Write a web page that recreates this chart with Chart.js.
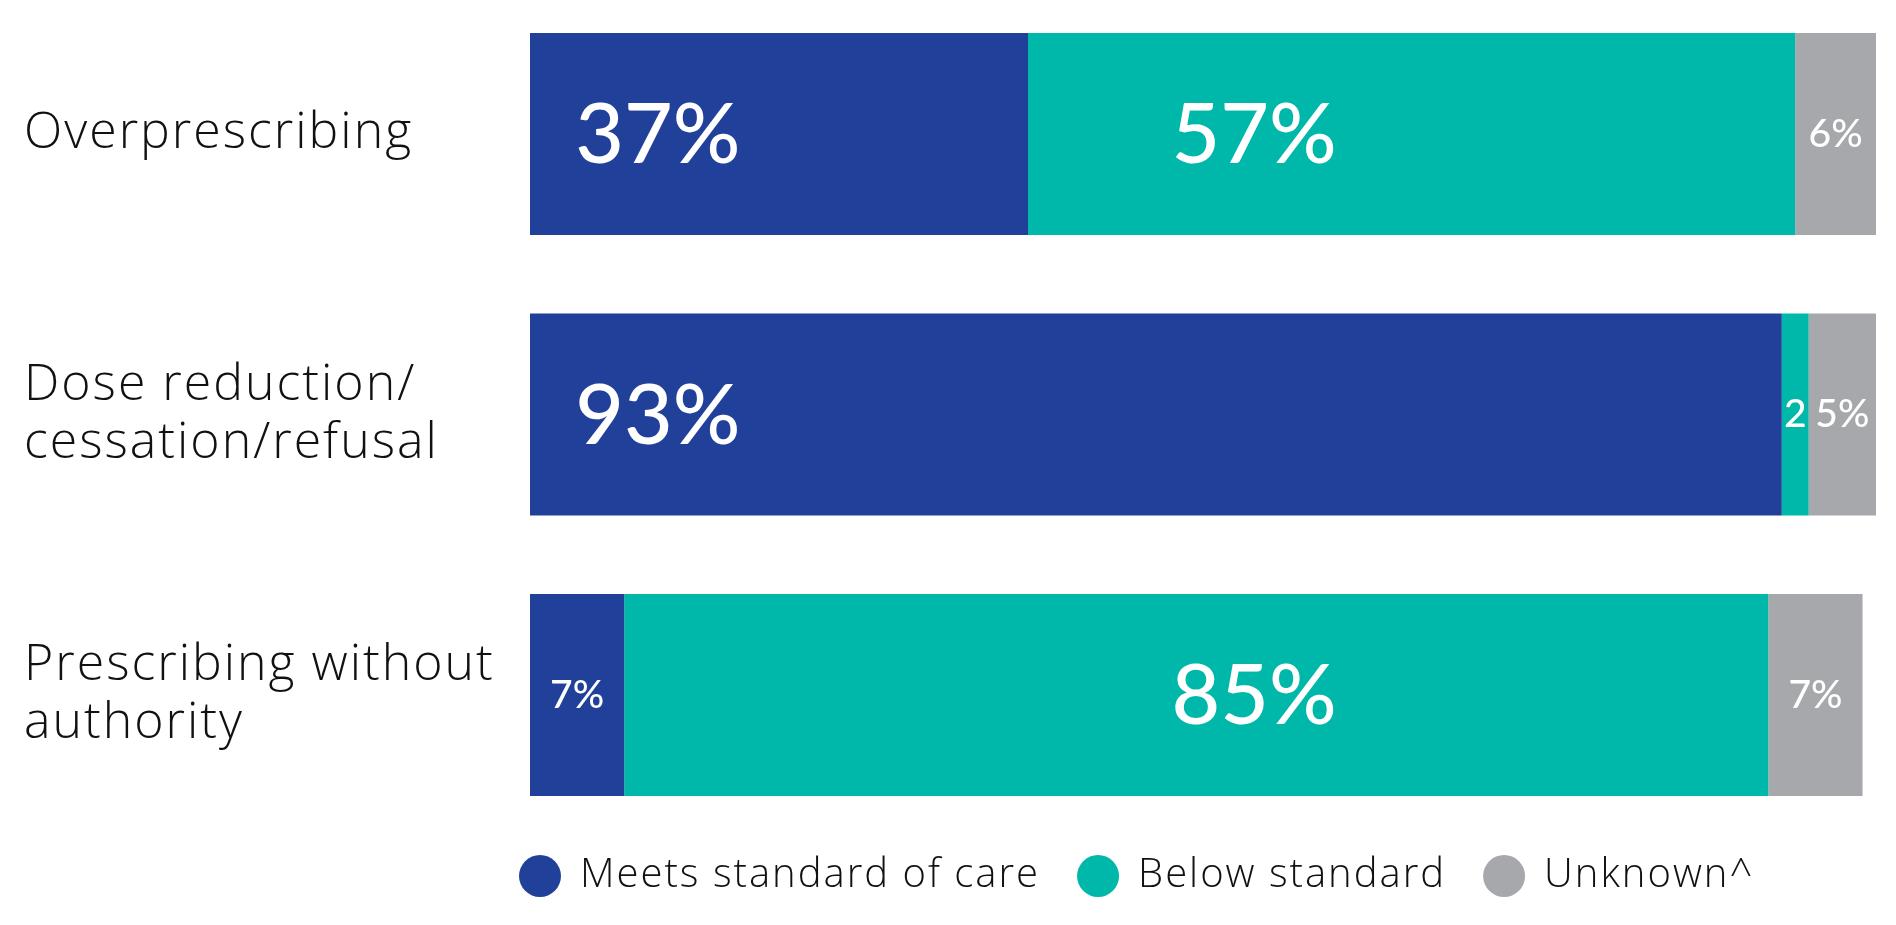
<!DOCTYPE html>
<html>
<head>
<meta charset="utf-8">
<script src="https://cdn.jsdelivr.net/npm/chart.js@4"></script>
<style>
  body { margin: 0; background: #fff; }
  #wrap { width: 1896px; height: 925px; position: relative; }
</style>
</head>
<body>
<div id="wrap"><canvas id="careChart"></canvas></div>
<script>
// Chart data
const categories = ['Overprescribing', ['Dose reduction/', 'cessation/refusal'], ['Prescribing without', 'authority']];
const seriesNames = ['Meets standard of care', 'Below standard', 'Unknown^'];
const meetsStandard = [37, 93, 7];
const belowStandard = [57, 2, 85];
const unknownShare = [6, 5, 7];

const colours = ['#21409a', '#00b8aa', '#a7a8ac'];
// big labels sit at fixed spots along the axis (in % units), small ones are centred
const bigLabelAt = [9.5, 53.8, null];

const LABEL_FONT = 'Lato, "Open Sans", sans-serif';
const TEXT_FONT = '"Open Sans", Lato, sans-serif';
const LEGEND_SIZE = 40;

// the original typeface is wide, so open up the axis / legend text a bit
const spacing = {
  id: 'spacing',
  beforeUpdate(chart) { chart.ctx.letterSpacing = '2px'; },
  beforeDraw(chart) { chart.ctx.letterSpacing = '2px'; }
};

const barLabels = {
  id: 'barLabels',
  afterDatasetsDraw(chart) {
    const ctx = chart.ctx;
    const xs = chart.scales.x;
    ctx.save();
    ctx.letterSpacing = '0px';
    ctx.fillStyle = '#fff';
    ctx.textAlign = 'center';
    ctx.textBaseline = 'middle';
    chart.data.datasets.forEach((ds, i) => {
      chart.getDatasetMeta(i).data.forEach((bar, j) => {
        const v = ds.data[j];
        if (v >= 30) {
          ctx.font = '500 84px ' + LABEL_FONT;
          ctx.fillText(v + '%', xs.getPixelForValue(bigLabelAt[i]), bar.y + 2);
        } else {
          ctx.font = '500 39px ' + LABEL_FONT;
          const txt = v < 3 ? String(v) : v + '%';
          ctx.fillText(txt, (bar.base + bar.x) / 2, bar.y);
        }
      });
    });
    ctx.restore();
  }
};

// move legend under the bars, left aligned with the first bar
const legendSpot = {
  id: 'legendSpot',
  afterLayout(chart) {
    const lg = chart.legend;
    const pad = lg.options.labels.padding;
    const dx = 520 - pad - lg.left;
    lg.left += dx; lg.right += dx;
    const dy = 876 - pad - LEGEND_SIZE / 2 - lg.top;
    lg.top += dy; lg.bottom += dy;
  }
};

new Chart(document.getElementById('careChart'), {
  type: 'bar',
  data: {
    labels: categories,
    datasets: [
      { label: seriesNames[0], data: meetsStandard, backgroundColor: colours[0] },
      { label: seriesNames[1], data: belowStandard, backgroundColor: colours[1] },
      { label: seriesNames[2], data: unknownShare, backgroundColor: colours[2] }
    ]
  },
  options: {
    indexAxis: 'y',
    responsive: true,
    maintainAspectRatio: false,
    animation: false,
    layout: { padding: { top: 134, left: 24, right: 20, bottom: 142 } },
    datasets: { bar: { categoryPercentage: 1, barPercentage: 0.72, borderWidth: 0, clip: false } },
    scales: {
      x: { stacked: true, min: 0, max: 100, display: false },
      y: {
        stacked: true,
        offset: false,
        grid: { display: false },
        border: { display: false },
        afterFit(scale) {
          scale.width = 506;
          scale.paddingTop = 0;
          scale.paddingBottom = 0;
        },
        ticks: {
          crossAlign: 'far',
          color: '#111',
          font: { family: TEXT_FONT, size: 50, weight: 300, lineHeight: 1.16 }
        }
      }
    },
    plugins: {
      tooltip: { enabled: false },
      legend: {
        position: 'bottom',
        align: 'start',
        labels: {
          usePointStyle: true,
          pointStyle: 'circle',
          boxWidth: 42,
          boxHeight: 29.7,
          padding: 38,
          color: '#111',
          font: { family: TEXT_FONT, size: LEGEND_SIZE, weight: 300 }
        }
      }
    }
  },
  plugins: [spacing, barLabels, legendSpot]
});
</script>
</body>
</html>
